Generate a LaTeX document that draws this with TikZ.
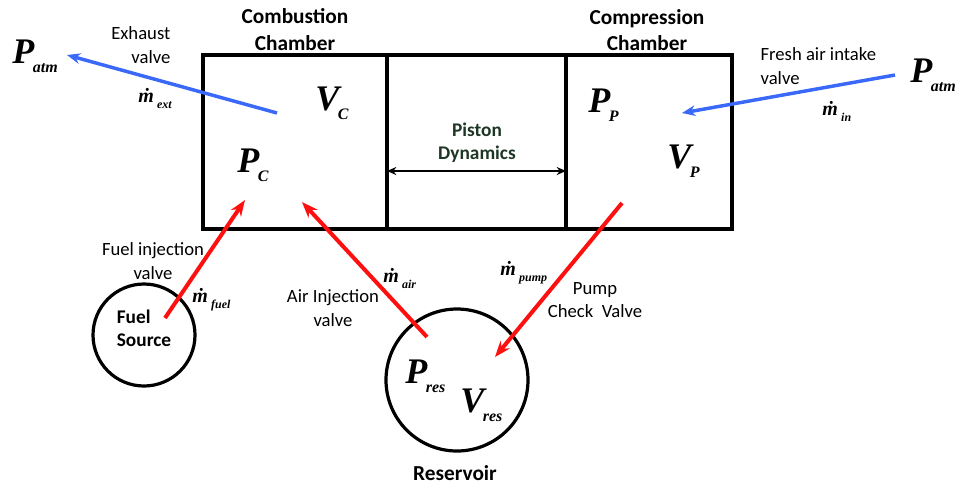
\documentclass[tikz,border=0pt]{standalone}
\usepackage{fontspec}
\setmainfont{Carlito}
\newfontfamily\varfont{Liberation Serif}
\usetikzlibrary{
  arrows.meta,
  positioning
}
\usepackage{xcolor}
\definecolor{flowred}{HTML}{FF1010}
\definecolor{flowblue}{HTML}{3A68F8}
\definecolor{pistongreen}{HTML}{1E3626}

\newcommand{\bigvar}[2]{{\varfont\bfseries\itshape\fontsize{27}{27}\selectfont
  #1\kern-0.04em\raisebox{-7pt}{\fontsize{12}{12}\selectfont #2}}}
\newcommand{\mflow}[1]{{\varfont\bfseries\itshape\fontsize{15}{15}\selectfont
  ṁ\,\smash{\raisebox{-4.5pt}{\fontsize{9}{9}\selectfont #1}}}}

\begin{document}
\begin{tikzpicture}[
  x=0.75pt, y=-0.75pt,
  chamber/.style={draw, line width=3pt, minimum height=130.5pt,
    inner sep=0pt, outer sep=0pt},
  tank/.style={draw, circle, line width=2.4pt, inner sep=0pt, outer sep=0pt},
  title/.style={font=\fontsize{16}{20}\selectfont\bfseries, align=center},
  label/.style={font=\fontsize{14}{17.5}\selectfont, align=center, inner sep=1pt},
  sym/.style={anchor=base west, inner sep=0pt},
  redflow/.style={-{Stealth[length=12pt, width=9pt]}, line width=3pt, draw=flowred},
  blueflow/.style={-{Stealth[length=10pt, width=8pt]}, line width=2.6pt, draw=flowblue},
  pushrod/.style={{Stealth[length=7pt, width=6pt]}-{Stealth[length=7pt, width=6pt]},
    line width=2pt, draw=black}
]
  \useasboundingbox (0,0) rectangle (960,487);

  \node[chamber, minimum width=138pt] (comb) at (295,142) {};
  \node[chamber, minimum width=134.25pt] (piston) at (476.5,142) {};
  \node[chamber, minimum width=124.5pt] (comp) at (649,142) {};

  \node[title, above=0pt of comb] (combT) {Combustion\\Chamber};
  \node[title] (compT) at (647,30) {Compression\\Chamber};

  \node[label, font=\fontsize{14.5}{17.5}\selectfont\bfseries, text=pistongreen]
    (pd) at (477,143) {Piston\\Dynamics};
  \coordinate (rod) at (477,171);
  \draw[pushrod] (comb.east |- rod) -- (comp.west |- rod);

  \node[sym] (Vc) at (315,110) {\bigvar{V}{C}};
  \node[sym] (Pc) at (237,172) {\bigvar{P}{C}};
  \node[sym] (Pp) at (588,112) {\bigvar{P}{P}};
  \node[sym] (Vp) at (667,168) {\bigvar{V}{P}};
  \node[sym] (PatmL) at (12,63) {\bigvar{P}{atm}};
  \node[sym] (PatmR) at (910,82) {\bigvar{P}{atm}};

  \node[label, align=right, anchor=east] (exhT) at (172,45) {Exhaust\\valve};
  \node[label, align=left, anchor=west] (inT) at (759,66) {Fresh air intake\\valve};
  \node[sym] (mext) at (138,102) {\mflow{ext}};
  \node[sym] (min) at (822,115) {\mflow{in}};

  \node[tank, minimum size=76.5pt] (fuel) at (144,335) {};
  \node[label, align=left, font=\fontsize{14.5}{17.5}\selectfont\bfseries]
    (fuelT) at (144,328) {Fuel\\Source};
  \node[tank, minimum size=106.5pt] (res) at (457,380) {};
  \node[title] (resT) at (455,473) {Reservoir};
  \node[sym] (Pres) at (405,383) {\bigvar{P}{res}};
  \node[sym] (Vres) at (460,412) {\bigvar{V}{res}};

  \node[label] (fuelV) at (153,261) {Fuel injection\\valve};
  \node[label] (airV) at (333,308) {Air Injection\\valve};
  \node[label] (pumpV) at (595,300) {Pump\\Check\ \ Valve};
  \node[sym] (mfuel) at (192,302) {\mflow{fuel}};
  \node[sym] (mair) at (383,282) {\mflow{air}};
  \node[sym] (mpump) at (500,275) {\mflow{pump}};

  \coordinate (exhA) at (277,113);
  \coordinate (exhB) at (67,55);
  \coordinate (inA) at (895,75);
  \coordinate (inB) at (682,113);
  \coordinate (fuelA) at (165,318);
  \coordinate (fuelB) at (245,200);
  \coordinate (airA) at (427,337);
  \coordinate (airB) at (302,202);
  \coordinate (pumpA) at (622,203);
  \coordinate (pumpB) at (495,357);

  \draw[blueflow] (exhA) -- (exhB);
  \draw[blueflow] (inA) -- (inB);
  \draw[redflow] (fuelA) -- (fuelB);
  \draw[redflow] (airA) -- (airB);
  \draw[redflow] (pumpA) -- (pumpB);

\end{tikzpicture}
\end{document}
